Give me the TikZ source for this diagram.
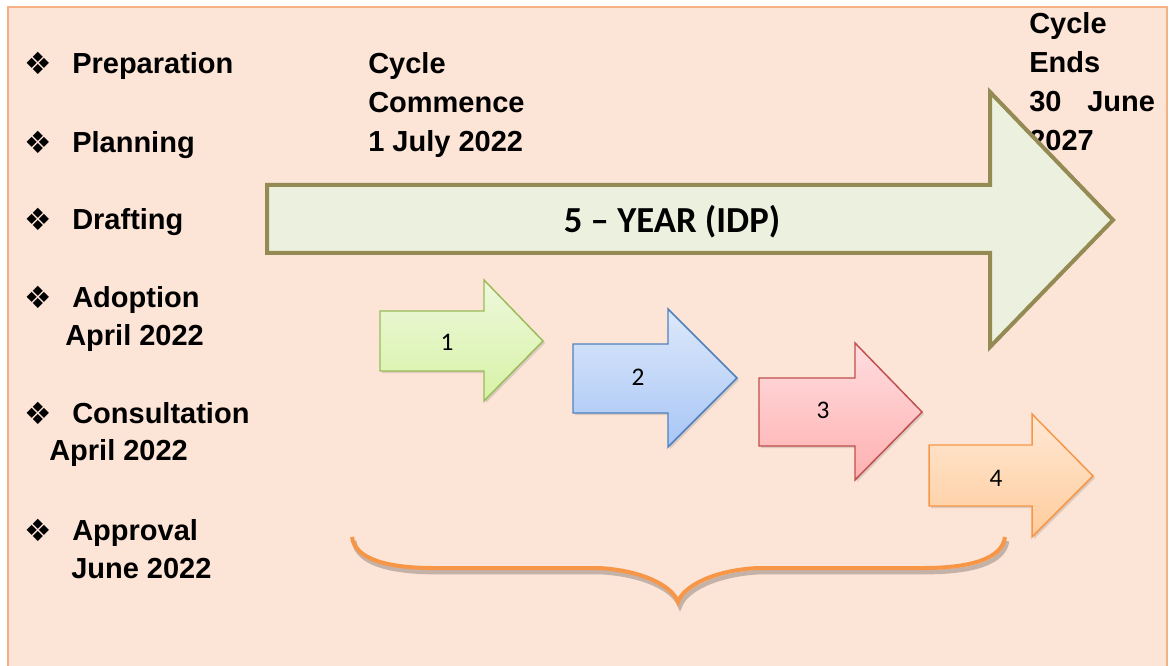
\documentclass[tikz,border=0pt]{standalone}
\usepackage{fontspec}
\setmainfont{Liberation Sans}
\newfontfamily\calib{Carlito}
\newfontfamily\dejavu{DejaVu Sans}
\usetikzlibrary{shadows}
\definecolor{bgfill}{HTML}{FCE4D6}
\definecolor{framecol}{HTML}{F4B183}
\definecolor{olive}{HTML}{948A54}
\definecolor{bigfill}{HTML}{EBF1DE}
\definecolor{gA}{HTML}{EEF8DC}\definecolor{gB}{HTML}{D6F2A6}\definecolor{gC}{HTML}{9BBB59}
\definecolor{bA}{HTML}{DDE8FA}\definecolor{bB}{HTML}{A8C6F6}\definecolor{bC}{HTML}{4F81BD}
\definecolor{rA}{HTML}{FFDDE0}\definecolor{rB}{HTML}{FFB0B0}\definecolor{rC}{HTML}{C0504D}
\definecolor{oA}{HTML}{FFE8D4}\definecolor{oB}{HTML}{FFCC9C}\definecolor{oC}{HTML}{F79646}
\newcommand\mybracepath{(352,537) .. controls (355,560) and (390,568) .. (433,568) -- (598,568) .. controls (640,570) and (672,585) .. (678,602) .. controls (684,585) and (716,570) .. (758,568) -- (924,568) .. controls (967,568) and (1002,560) .. (1005,537)}
\tikzset{
  lbl/.style={anchor=base west, inner sep=0pt, font=\fontsize{21.75}{26}\selectfont\bfseries},
  bul/.style={anchor=base west, inner sep=0pt, font=\dejavu\fontsize{23}{26}\selectfont},
  num/.style={font=\calib\fontsize{19}{22}\selectfont},
  smallarrow/.style={line width=1.1pt, line join=miter, drop shadow={opacity=0.25, shadow xshift=1.5pt, shadow yshift=-1.5pt}},
}
\begin{document}
\begin{tikzpicture}[x=0.75pt, y=-0.75pt]
\useasboundingbox (0,0) rectangle (1169,666);
\draw[framecol, line width=1.5pt, fill=bgfill] (8,7) rectangle (1167,672);

% left list
\node[bul] (b1) at (24,75) {❖};
\node[lbl] (t1) at (72,74) {Preparation};
\node[bul] (b2) at (24,154) {❖};
\node[lbl] (t2) at (72,153) {Planning};
\node[bul] (b3) at (24,231) {❖};
\node[lbl] (t3) at (72,230) {Drafting};
\node[bul] (b4) at (24,309) {❖};
\node[lbl] (t4) at (72,307) {Adoption};
\node[lbl] (t4b) at (65,345) {April 2022};
\node[bul] (b5) at (24,424) {❖};
\node[lbl] (t5) at (72,423) {Consultation};
\node[lbl] (t5b) at (49,460) {April 2022};
\node[bul] (b6) at (24,541) {❖};
\node[lbl] (t6) at (72,540) {Approval};
\node[lbl] (t6b) at (71,578) {June 2022};

% cycle texts
\node[lbl] (c1) at (368,74) {Cycle};
\node[lbl] (c2) at (368,113) {Commence};
\node[lbl] (c3) at (368,152) {1 July 2022};
\node[lbl] (e1) at (1029,34) {Cycle};
\node[lbl] (e2) at (1029,73) {Ends};
\node[lbl] (e3) at (1029,112) {30};
\node[lbl] (e3b) at (1087,112) {June};
\node[lbl] (e4) at (1029,151) {2027};

% big arrow
\draw[olive, line width=3pt, fill=bigfill, line join=miter]
  (267,185) -- (990,185) -- (990,92) -- (1113,220) -- (990,347) -- (990,253) -- (267,253) -- cycle;
\node[font=\calib\bfseries\fontsize{27.5}{30}\selectfont] (big) at (672,222) {5 – YEAR (IDP)};

% small arrows
\draw[smallarrow, draw=gC, top color=gA, bottom color=gB]
  (380,311) -- (484,311) -- (484,280) -- (543,341) -- (484,401) -- (484,371) -- (380,371) -- cycle;
\node[num] (n1) at (447,342) {1};
\draw[smallarrow, draw=bC, top color=bA, bottom color=bB]
  (573,344) -- (668,344) -- (668,309) -- (737,378) -- (668,447) -- (668,413) -- (573,413) -- cycle;
\node[num] (n2) at (638,377) {2};
\draw[smallarrow, draw=rC, top color=rA, bottom color=rB]
  (759,378) -- (855,378) -- (855,343) -- (922,412) -- (855,480) -- (855,446) -- (759,446) -- cycle;
\node[num] (n3) at (823,410) {3};
\draw[smallarrow, draw=oC, top color=oA, bottom color=oB]
  (929,445) -- (1032,445) -- (1032,414) -- (1093,476) -- (1032,537) -- (1032,506) -- (929,506) -- cycle;
\node[num] (n4) at (996,478) {4};

% brace
\begin{scope}[shift={(2,4)}]
\draw[black, opacity=0.22, line width=3.5pt] \mybracepath;
\end{scope}
\draw[oC, line width=3pt] \mybracepath;
\end{tikzpicture}
\end{document}
